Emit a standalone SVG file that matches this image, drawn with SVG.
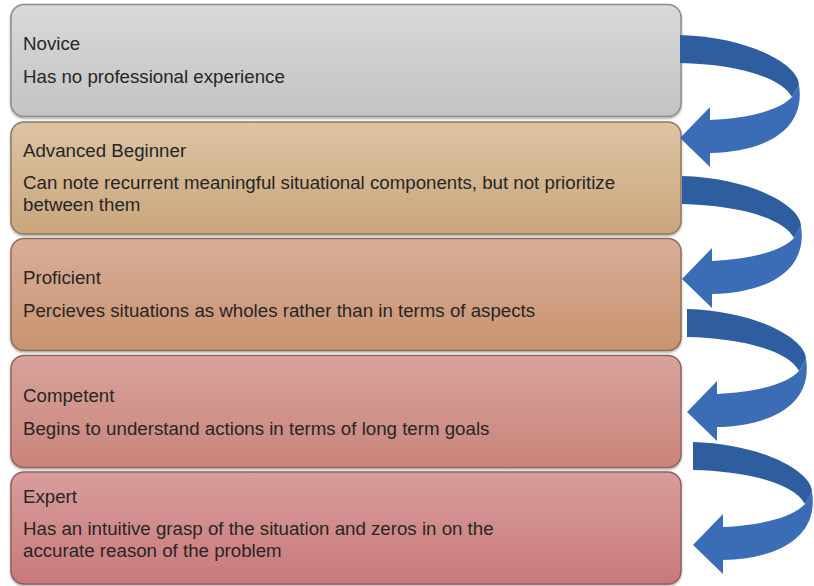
<svg xmlns="http://www.w3.org/2000/svg" xmlns:xlink="http://www.w3.org/1999/xlink" width="814" height="586" viewBox="0 0 814 586">
<style>
.box{stroke-width:1.5}
.t{font-family:"Liberation Sans",Arial,sans-serif;font-size:18.7px;fill:#262626}
.dk{fill:#2e5ea0}
.lt{fill:#3b6db7}
</style>
<defs>
<linearGradient id="g1" x1="0" y1="0" x2="0" y2="1"><stop offset="0" stop-color="#d9d9d9"/><stop offset="1" stop-color="#c3c3c3"/></linearGradient>
<linearGradient id="g2" x1="0" y1="0" x2="0" y2="1"><stop offset="0" stop-color="#dcc4a3"/><stop offset="1" stop-color="#caa67c"/></linearGradient>
<linearGradient id="g3" x1="0" y1="0" x2="0" y2="1"><stop offset="0" stop-color="#d8ae99"/><stop offset="1" stop-color="#c9936f"/></linearGradient>
<linearGradient id="g4" x1="0" y1="0" x2="0" y2="1"><stop offset="0" stop-color="#d8a39c"/><stop offset="1" stop-color="#c9847a"/></linearGradient>
<linearGradient id="g5" x1="0" y1="0" x2="0" y2="1"><stop offset="0" stop-color="#d99d9c"/><stop offset="1" stop-color="#c9797a"/></linearGradient>
<filter id="sh" x="-5%" y="-10%" width="110%" height="125%"><feDropShadow dx="0" dy="1.5" stdDeviation="1.2" flood-color="#000" flood-opacity="0.35"/></filter>
<g id="arrow">
<path class="dk" d="M0,0 C70,2 119,30 119,50 L112,62 C100,40 50,29 0,28 Z"/>
<path class="lt" d="M119,50 C126,95 85,117 30,118 L30,132 L0,103 L30,72 L30,85 C70,83 100,75 112,62 Z"/>
</g>
</defs>
<g id="novice">
<rect class="box" x="11" y="4.5" width="670" height="112" rx="13" fill="url(#g1)" stroke="#8c8c8c" filter="url(#sh)"/>
<text class="t" x="23" y="50">Novice</text>
<text class="t" x="23" y="83">Has no professional experience</text>
</g>
<g id="advanced-beginner">
<rect class="box" x="11" y="122" width="670" height="112" rx="13" fill="url(#g2)" stroke="#8f7a60" filter="url(#sh)"/>
<text class="t" x="23" y="157">Advanced Beginner</text>
<text class="t" x="23" y="189">Can note recurrent meaningful situational components, but not prioritize</text>
<text class="t" x="23" y="211">between them</text>
</g>
<g id="proficient">
<rect class="box" x="11" y="238.5" width="670" height="112" rx="13" fill="url(#g3)" stroke="#8f6c5c" filter="url(#sh)"/>
<text class="t" x="23" y="284">Proficient</text>
<text class="t" x="23" y="317">Percieves situations as wholes rather than in terms of aspects</text>
</g>
<g id="competent">
<rect class="box" x="11" y="355.5" width="670" height="112" rx="13" fill="url(#g4)" stroke="#8f6560" filter="url(#sh)"/>
<text class="t" x="23" y="402">Competent</text>
<text class="t" x="23" y="435">Begins to understand actions in terms of long term goals</text>
</g>
<g id="expert">
<rect class="box" x="11" y="472" width="670" height="112" rx="13" fill="url(#g5)" stroke="#8f6060" filter="url(#sh)"/>
<text class="t" x="23" y="503">Expert</text>
<text class="t" x="23" y="535">Has an intuitive grasp of the situation and zeros in on the</text>
<text class="t" x="23" y="557">accurate reason of the problem</text>
</g>
<g id="connectors">
<use xlink:href="#arrow" transform="translate(680,35)"/>
<use xlink:href="#arrow" transform="translate(682,176)"/>
<use xlink:href="#arrow" transform="translate(687,309)"/>
<use xlink:href="#arrow" transform="translate(693,442)"/>
</g>
</svg>
